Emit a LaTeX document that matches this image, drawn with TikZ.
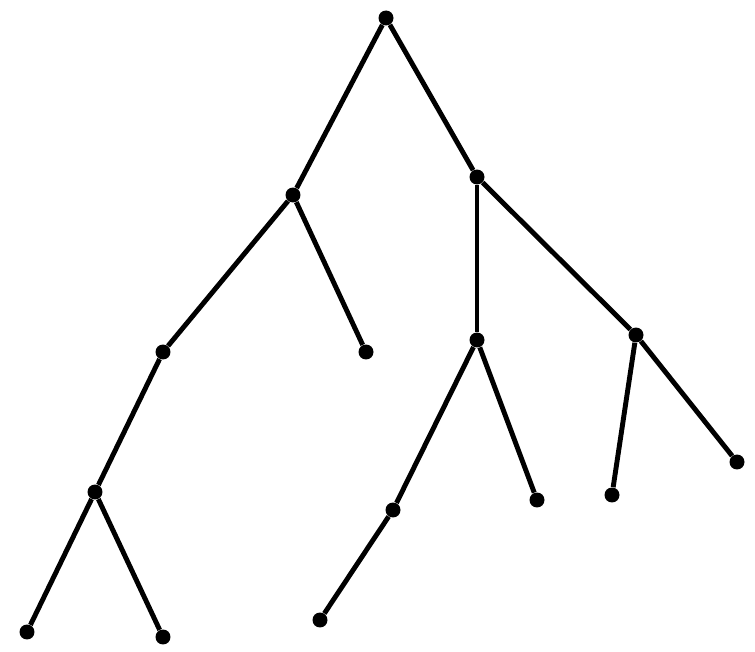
\documentclass[tikz,border=0pt]{standalone}
\usepackage{tikz}

\begin{document}
\begin{tikzpicture}[x=0.02cm, y=-0.02cm, dot/.style={circle, fill=black, inner sep=0pt, minimum size=0.3cm}, branch/.style={line width=2.8pt}]
\useasboundingbox (0,0) rectangle (755,652);
\node (root) [dot] at (386,18) {};
\node (left) [dot] at (293,195) {};
\node (right) [dot] at (477,177) {};
\node (left left) [dot] at (163,352) {};
\node (left right) [dot] at (366,352) {};
\node (right mid) [dot] at (477,340) {};
\node (right right) [dot] at (636,335) {};
\node (ll inner) [dot] at (95,492) {};
\node (rm right) [dot] at (537,500) {};
\node (rm inner) [dot] at (393,510) {};
\node (rr left) [dot] at (612,495) {};
\node (rr right) [dot] at (737,462) {};
\node (lli left) [dot] at (27,632) {};
\node (lli right) [dot] at (163,637) {};
\node (rmi leaf) [dot] at (320,620) {};

\draw [branch] (root) -- (left);
\draw [branch] (root) -- (right);
\draw [branch] (left) -- (left left);
\draw [branch] (left) -- (left right);
\draw [branch] (right) -- (right mid);
\draw [branch] (right) -- (right right);
\draw [branch] (left left) -- (ll inner);
\draw [branch] (ll inner) -- (lli left);
\draw [branch] (ll inner) -- (lli right);
\draw [branch] (right mid) -- (rm inner);
\draw [branch] (right mid) -- (rm right);
\draw [branch] (rm inner) -- (rmi leaf);
\draw [branch] (right right) -- (rr left);
\draw [branch] (right right) -- (rr right);

\end{tikzpicture}
\end{document}
